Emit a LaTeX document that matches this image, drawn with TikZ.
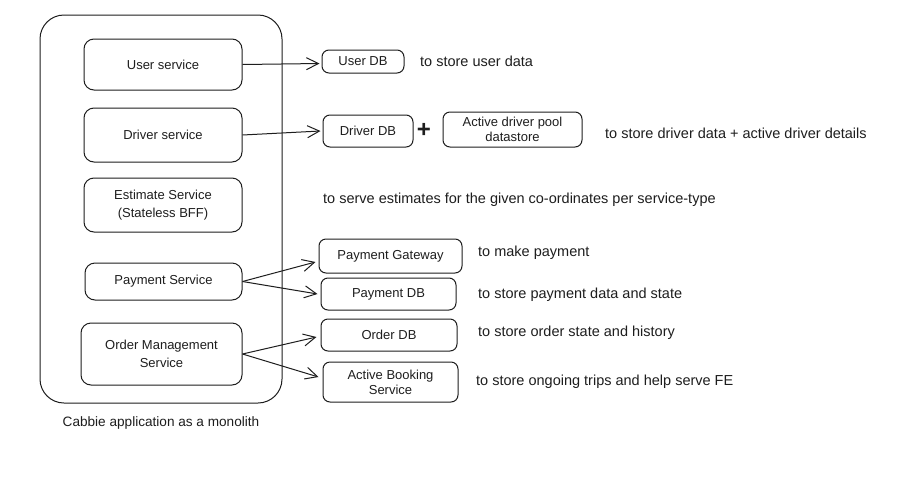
\documentclass[tikz,border=0pt]{standalone}
\usepackage{fontspec}
\setmainfont{Liberation Sans}
\usetikzlibrary{arrows.meta,calc}
\definecolor{ink}{HTML}{1E1E1E}
\begin{document}
\begin{tikzpicture}[x=1pt,y=-1pt,
  every node/.style={font=\fontsize{13}{18}\selectfont, text=ink},
  svc/.style={draw=ink, line width=1pt, rounded corners=10pt, align=center, inner sep=0pt},
  note/.style={anchor=west, inner sep=0pt, font=\fontsize{14.5}{17}\selectfont},
  conn/.style={draw=ink, line width=1pt, -{Straight Barb[length=12pt,width=12pt,line width=1pt]}}
]
\useasboundingbox[fill=white] (0,0) rectangle (913,488);
% container
\node[svc, rounded corners=24pt, minimum width=242pt, minimum height=388pt] (app) at (161,209) {};
\node[inner sep=0pt, font=\fontsize{13.6}{16}\selectfont] (cap) at (161,423) {Cabbie application as a monolith};
% services
\node[svc, minimum width=158pt, minimum height=51pt] (user) at (163,64.5) {User service};
\node[svc, minimum width=158pt, minimum height=54pt] (driver) at (163,135) {Driver service};
\node[svc, minimum width=158pt, minimum height=54pt] (est) at (163,205) {Estimate Service\\(Stateless BFF)};
\node[svc, minimum width=157pt, minimum height=37pt] (pay) at (163.5,281.5) {Payment Service};
\node[svc, minimum width=161pt, minimum height=62pt] (order) at (161.5,354) {Order Management\\Service};
% stores
\node[svc, rounded corners=7pt, minimum width=82pt, minimum height=23pt] (udb) at (363,61.5) {User DB};
\node[svc, rounded corners=7pt, minimum width=90pt, minimum height=32pt] (ddb) at (368,131) {Driver DB};
\node[inner sep=0pt, font=\fontsize{24}{24}\selectfont\bfseries] (plus) at (424,130) {+};
\node[svc, rounded corners=7pt, minimum width=139pt, minimum height=35pt] (pool) at (512.5,129.5) {Active driver pool\\[-3pt]datastore};
\node[svc, rounded corners=7pt, minimum width=143pt, minimum height=34pt] (pg) at (390.5,256) {Payment Gateway};
\node[svc, rounded corners=7pt, minimum width=135pt, minimum height=32pt] (pdb) at (388.5,294) {Payment DB};
\node[svc, rounded corners=7pt, minimum width=136pt, minimum height=32pt] (odb) at (389,335) {Order DB};
\node[svc, rounded corners=7pt, minimum width=135pt, minimum height=40pt] (abs) at (390.5,382) {Active Booking\\[-3pt]Service};
% notes
\node[note] (n1) at (420,61) {to store user data};
\node[note] (n2) at (605,133) {to store driver data + active driver details};
\node[note] (n3) at (323,200) {to serve estimates for the given co-ordinates per service-type};
\node[note] (n4) at (478,253) {to make payment};
\node[note] (n5) at (478,295) {to store payment data and state};
\node[note] (n6) at (478,333) {to store order state and history};
\node[note] (n7) at (476,382) {to store ongoing trips and help serve FE};
% connectors
\draw[conn] (user.east) -- ([xshift=-2pt,yshift=-2pt]udb.west);
\draw[conn] (driver.east) -- ([xshift=-2pt]ddb.west);
\draw[conn] (pay.east) -- ([xshift=-3pt,yshift=-6pt]pg.west);
\draw[conn] (pay.east) -- ([xshift=-3pt]pdb.west);
\draw[conn] (order.east) -- ([xshift=-4pt,yshift=-2pt]odb.west);
\draw[conn] (order.east) -- ([xshift=-4pt,yshift=5pt]abs.west);
\end{tikzpicture}
\end{document}
